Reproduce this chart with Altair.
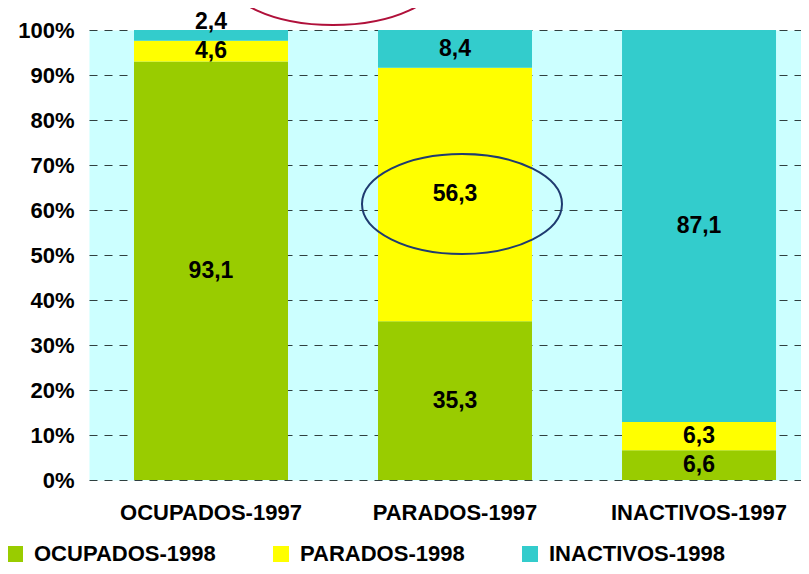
import altair as alt
import pandas as pd

FONT = "Liberation Sans"

categories = ["OCUPADOS-1997", "PARADOS-1997", "INACTIVOS-1997"]
series = ["OCUPADOS-1998", "PARADOS-1998", "INACTIVOS-1998"]
ocupados_1998 = [93.1, 35.3, 6.6]
parados_1998 = [4.6, 56.3, 6.3]
inactivos_1998 = [2.4, 8.4, 87.1]
colors = ["#99cc00", "#ffff00", "#33cccc"]
y_ticks = [0, 0.1, 0.2, 0.3, 0.4, 0.5, 0.6, 0.7, 0.8, 0.9, 1.0]

rows = []
for i, vals in enumerate([ocupados_1998, parados_1998, inactivos_1998]):
    for j, cat in enumerate(categories):
        rows.append({
            "category": cat,
            "series": series[i],
            "order": i,
            "value": vals[j],
            "label": f"{vals[j]:.1f}".replace(".", ","),
        })
df = pd.DataFrame(rows)

base = alt.Chart(df).transform_stack(
    stack="value",
    groupby=["category"],
    as_=["start", "end"],
    offset="normalize",
    sort=[alt.SortField("order", order="ascending")],
).transform_calculate(
    mid="datum.value < 3 ? datum.end + 0.018 : (datum.start + datum.end) / 2"
)

x_enc = alt.X(
    "category:N",
    sort=categories,
    title=None,
    scale=alt.Scale(paddingInner=0.3689, paddingOuter=0.1434, align=0.643),
    axis=alt.Axis(
        labelAngle=0, labelFont=FONT, labelFontSize=22, labelFontWeight="bold",
        labelColor="black", labelPadding=32, labelBaseline="middle", labelLimit=0,
        ticks=False, tickSize=0, domain=False, grid=False,
    ),
)

y_axis = alt.Axis(
    values=y_ticks, format=".0%", title=None,
    labelFont=FONT, labelFontSize=22, labelFontWeight="bold", labelColor="black",
    labelPadding=15, ticks=False, tickSize=0, domain=False,
    grid=True, gridColor="#2f3f3f", gridDash=[8, 7], gridWidth=1, gridOpacity=1,
)
y_scale = alt.Scale(domain=[0, 1], nice=False)

bars = base.mark_bar().encode(
    x=x_enc,
    y=alt.Y("start:Q", scale=y_scale, axis=y_axis, title=None),
    y2="end:Q",
    color=alt.Color(
        "series:N",
        scale=alt.Scale(domain=series, range=colors),
        legend=alt.Legend(
            orient="none", legendX=-85, legendY=513, direction="horizontal",
            title=None, symbolType="square", symbolSize=256, symbolStrokeWidth=0,
            symbolOpacity=1, labelFont=FONT, labelFontSize=22, labelFontWeight="bold",
            labelColor="black", labelOffset=8, labelLimit=0, columnPadding=54, padding=0,
        ),
    ),
)

texts = base.mark_text(
    font=FONT, fontSize=23, fontWeight="bold", color="black", baseline="middle"
).encode(
    x=alt.X("category:N", sort=categories, title=None),
    y=alt.Y("mid:Q", scale=y_scale, title=None),
    text="label:N",
)

one = pd.DataFrame({"k": [0]})
blue_shape = "M -1 0 A 1 0.5 0 1 1 1 0 A 1 0.5 0 1 1 -1 0 Z"
red_shape = "M -1 0 A 1 0.463 0 1 1 1 0 A 1 0.463 0 1 1 -1 0 Z"

blue_ell = alt.Chart(one).mark_point(
    shape=blue_shape, size=40000, filled=False, color="#1f3b70",
    strokeWidth=2, opacity=1,
).encode(x=alt.value(373), y=alt.value(174))

red_ell = alt.Chart(one).mark_point(
    shape=red_shape, size=46656, filled=False, color="#b0103a",
    strokeWidth=2, opacity=1,
).encode(x=alt.value(244), y=alt.value(-55))

chart = alt.layer(bars, texts, blue_ell, red_ell).properties(
    width=712,
    height=450,
    autosize=alt.AutoSizeParams(type="none"),
    padding={"left": 81, "top": 22, "right": 0, "bottom": 86},
).configure_view(fill="#ccffff", stroke="transparent")

chart.save("out.html", embed_options={"renderer": "svg", "actions": False})
